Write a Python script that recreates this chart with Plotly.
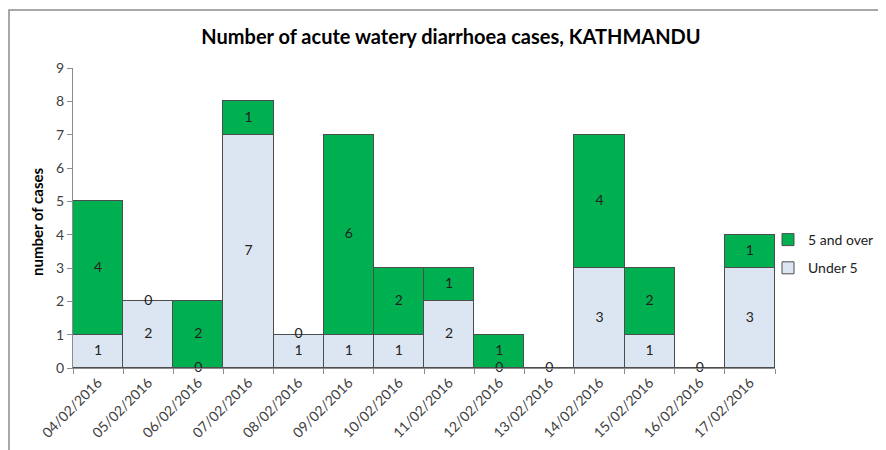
import plotly.graph_objects as go

dates = ["04/02/2016", "05/02/2016", "06/02/2016", "07/02/2016", "08/02/2016",
         "09/02/2016", "10/02/2016", "11/02/2016", "12/02/2016", "13/02/2016",
         "14/02/2016", "15/02/2016", "16/02/2016", "17/02/2016"]
under5 = [1, 2, 0, 7, 1, 1, 1, 2, 0, 0, 3, 1, 0, 3]
over5 = [4, 0, 2, 1, 0, 6, 2, 1, 1, 0, 4, 2, 0, 1]
# 5-and-over labels that are visible in the reference (zero days overlap)
show_over_label = [True, True, True, True, True, True, True, True, True, False, True, True, False, True]

FONT = "Lato"
fig = go.Figure()
fig.add_trace(go.Bar(x=dates, y=under5, name="Under 5", legendgroup="u", legendrank=2,
                     marker=dict(color="#dce6f2", line=dict(color="#4d4d4d", width=1))))
fig.add_trace(go.Bar(x=dates, y=over5, name="5 and over", legendgroup="o", legendrank=1,
                     marker=dict(color="#00b050", line=dict(color="#4d4d4d", width=1))))

# data labels at segment mid-points
u_mid = [u / 2 for u in under5]
o_mid = [u + o / 2 for u, o in zip(under5, over5)]
fig.add_trace(go.Scatter(x=dates, y=u_mid, mode="text", text=[str(v) for v in under5],
                         textfont=dict(family=FONT, size=14, color="#222222"),
                         showlegend=False, hoverinfo="skip", cliponaxis=False))
ox = [d for d, s in zip(dates, show_over_label) if s]
oy = [m for m, s in zip(o_mid, show_over_label) if s]
ot = [str(v) for v, s in zip(over5, show_over_label) if s]
fig.add_trace(go.Scatter(x=ox, y=oy, mode="text", text=ot,
                         textfont=dict(family=FONT, size=14, color="#222222"),
                         showlegend=False, hoverinfo="skip", cliponaxis=False))

# page has default 8px body margin
OFF = 8
W, H = 886 - OFF, 450 - OFF
L = 73 - OFF
T = 68 - OFF
R = W - (775 - OFF)
B = H - (368 - OFF)
pw, ph = W - L - R, H - T - B

def px_to_paper_x(px):
    return (px - OFF - L) / pw

def px_to_paper_y(py):
    return (H - B - (py - OFF)) / ph

fig.add_shape(type="rect", xref="paper", yref="paper",
              x0=px_to_paper_x(9), x1=px_to_paper_x(900),
              y0=px_to_paper_y(470), y1=px_to_paper_y(10),
              line=dict(color="#8c8c8c", width=1.5), fillcolor="rgba(0,0,0,0)", layer="below")

fig.add_annotation(text="<b>number of cases</b>", xref="paper", yref="paper",
                   x=px_to_paper_x(37), y=px_to_paper_y(222), textangle=-90,
                   showarrow=False, xanchor="center", yanchor="middle",
                   font=dict(family=FONT, size=15, color="black"))

fig.update_layout(
    width=W, height=H,
    margin=dict(l=L, r=R, t=T, b=B, autoexpand=False),
    barmode="stack", bargap=0,
    plot_bgcolor="white", paper_bgcolor="white",
    font=dict(family=FONT, size=14, color="#404040"),
    title=dict(text="<b>Number of acute watery diarrhoea cases, KATHMANDU</b>",
               x=(451 - OFF) / W, xanchor="center", y=1 - (37 - OFF) / H, yanchor="middle",
               xref="container", yref="container",
               font=dict(family=FONT, size=20, color="black")),
    legend=dict(x=px_to_paper_x(768), y=px_to_paper_y(224), xanchor="left", yanchor="top",
                traceorder="grouped", tracegroupgap=7,
                font=dict(family=FONT, size=14, color="#222222"),
                bgcolor="rgba(0,0,0,0)", itemwidth=30),
    xaxis=dict(type="category", range=[-0.5, len(dates) - 0.5], tickangle=-45, showline=True,
               linecolor="#8c8c8c", linewidth=1,
               ticks="outside", tickson="boundaries", ticklen=5, tickcolor="#8c8c8c",
               showgrid=False, tickfont=dict(family=FONT, size=14, color="#404040")),
    yaxis=dict(range=[0, 9], dtick=1, showline=True, linecolor="#8c8c8c", linewidth=1,
               ticks="outside", ticklen=5, tickcolor="#8c8c8c", showgrid=False, zeroline=False,
               tickfont=dict(family=FONT, size=14, color="#404040")),
)

fig.write_html("out.html")
